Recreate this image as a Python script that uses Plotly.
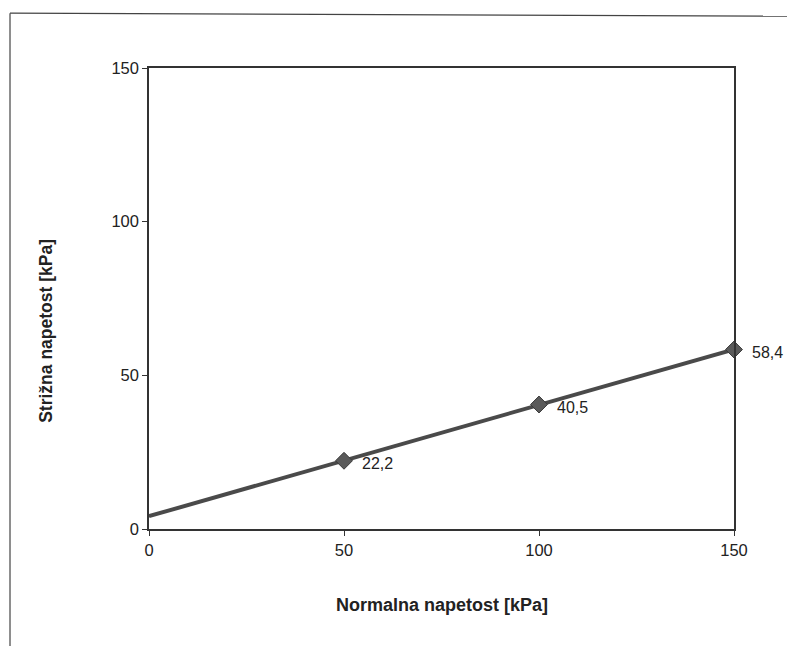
import numpy as np
import plotly.graph_objects as go

# Direct shear test results
normal_stress = [50, 100, 150]          # kPa
shear_stress = [22.2, 40.5, 58.4]       # kPa
x_ticks = [0, 50, 100, 150]
y_ticks = [0, 50, 100, 150]

# Linear failure envelope fitted through the measured points
slope, intercept = np.polyfit(normal_stress, shear_stress, 1)
env_x = [0, 150]
env_y = [intercept + slope * v for v in env_x]

labels = [f"{v:.1f}".replace(".", ",") for v in shear_stress]
FONT = "Liberation Sans, Arial"

fig = go.Figure()
fig.add_trace(go.Scatter(
    x=env_x, y=env_y, mode="lines",
    line=dict(color="#4a4a4a", width=4),
    hoverinfo="skip", showlegend=False,
))
fig.add_trace(go.Scatter(
    x=normal_stress, y=shear_stress, mode="markers",
    marker=dict(symbol="diamond", size=13, color="#5a5a5a",
                line=dict(color="#3a3a3a", width=1)),
    cliponaxis=False, showlegend=False,
))

axis_common = dict(
    showgrid=False, zeroline=False,
    showline=True, linecolor="#333", linewidth=1.5, mirror=True,
    ticks="outside", ticklen=5, tickcolor="#333",
    tickfont=dict(family=FONT, size=16.5, color="#222"),
)

# value labels to the right of each point
value_labels = [
    dict(x=xv, y=yv, text=t, xref="x", yref="y", showarrow=False,
         xanchor="left", yanchor="middle", xshift=16, yshift=-3,
         font=dict(family=FONT, size=16, color="#222"))
    for xv, yv, t in zip(normal_stress, shear_stress, labels)
]

fig.update_layout(
    width=787, height=646,
    margin=dict(l=149, r=53, t=68, b=117),
    paper_bgcolor="white", plot_bgcolor="white",
    xaxis=dict(range=[0, 150], tickvals=x_ticks, **axis_common),
    yaxis=dict(range=[0, 150], tickvals=y_ticks, **axis_common),
    annotations=value_labels + [
        dict(text="<b>Normalna napetost [kPa]</b>", xref="paper", yref="paper",
             x=0.50, y=-0.165, showarrow=False, xanchor="center", yanchor="middle",
             font=dict(family=FONT, size=18, color="#222")),
        dict(text="<b>Strižna napetost [kPa]</b>", xref="paper", yref="paper",
             x=-0.176, y=0.43, textangle=-90, showarrow=False,
             xanchor="center", yanchor="middle",
             font=dict(family=FONT, size=17.5, color="#222")),
    ],
    shapes=[
        # outer chart border (left and top edges)
        dict(type="line", xref="paper", yref="paper",
             x0=-0.2376, x1=-0.2376, y0=1.119, y1=-0.3,
             line=dict(color="#444", width=1.2)),
        dict(type="line", xref="paper", yref="paper",
             x0=-0.2376, x1=1.2, y0=1.119, y1=1.112,
             line=dict(color="#444", width=1.2)),
    ],
)

fig.write_html("out.html")
